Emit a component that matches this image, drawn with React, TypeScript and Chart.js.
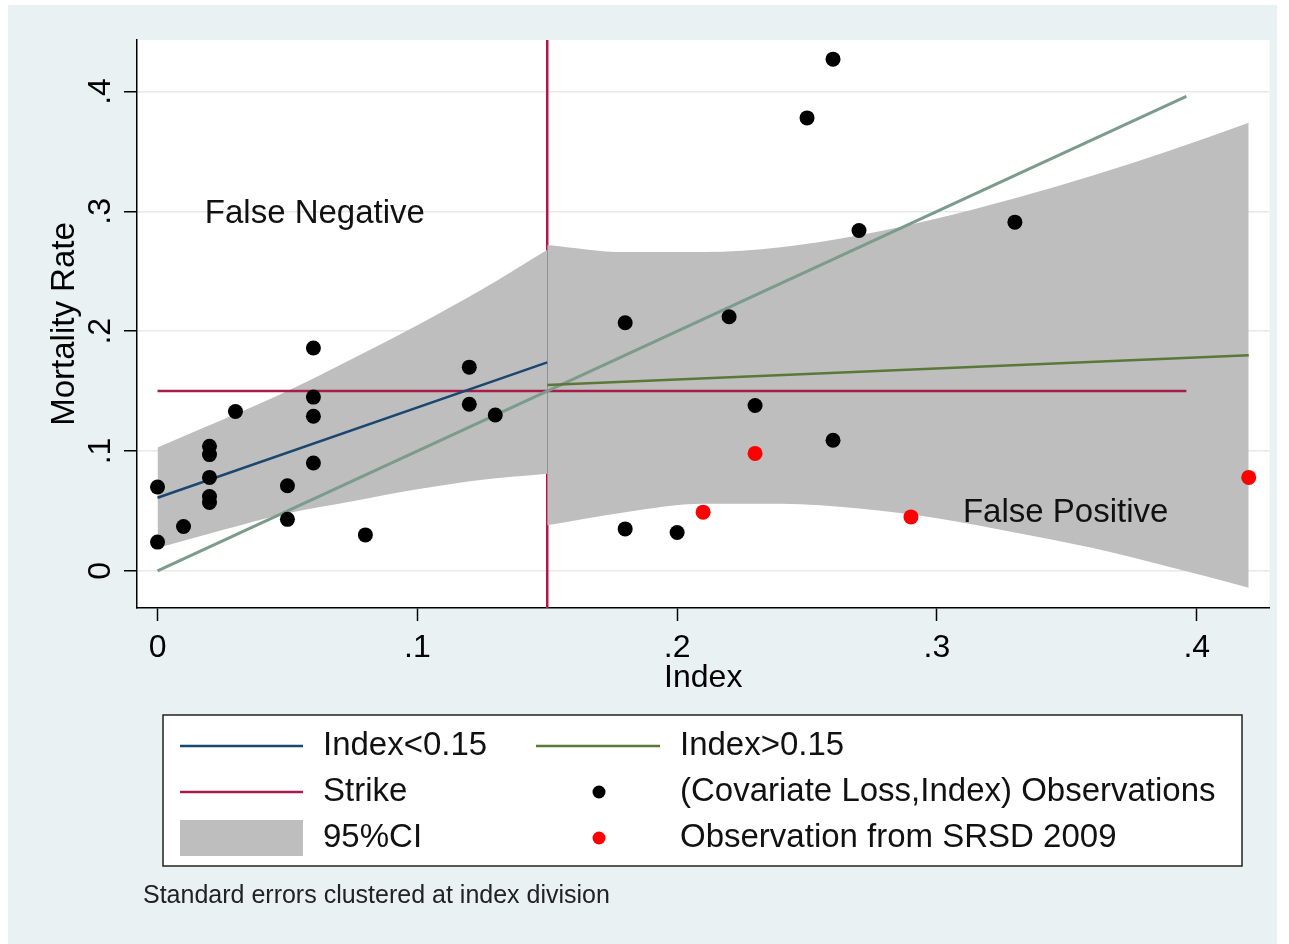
import React, { useEffect, useRef } from 'react';
import { Chart, registerables } from 'chart.js';

Chart.register(...registerables);

const FONT = '"Liberation Sans", Arial, Helvetica, sans-serif';

// Axes
const X_TICKS = [0, 0.1, 0.2, 0.3, 0.4];
const Y_TICKS = [0, 0.1, 0.2, 0.3, 0.4];
const X_MIN = -0.0079;
const X_MAX = 0.428;
const Y_MIN = -0.031;
const Y_MAX = 0.443;

// (Covariate Loss, Index) observations
const OBS_X = [0, 0, 0.01, 0.02, 0.02, 0.02, 0.02, 0.02, 0.03, 0.05, 0.05, 0.06, 0.06, 0.06, 0.06, 0.08, 0.12, 0.12, 0.13,
  0.18, 0.18, 0.2, 0.22, 0.23, 0.25, 0.26, 0.26, 0.27, 0.33];
const OBS_Y = [0.07, 0.024, 0.037, 0.104, 0.097, 0.078, 0.062, 0.057, 0.133, 0.071, 0.043, 0.186, 0.145, 0.129, 0.09, 0.03, 0.17, 0.139, 0.13,
  0.207, 0.035, 0.032, 0.212, 0.138, 0.378, 0.427, 0.109, 0.284, 0.291];

// Observations from SRSD 2009
const SRSD_X = [0.21, 0.23, 0.29, 0.42];
const SRSD_Y = [0.049, 0.098, 0.045, 0.078];

// Fitted lines
const LOW_FIT_X = [0, 0.15];
const LOW_FIT_Y = [0.061, 0.174];
const HIGH_FIT_X = [0.15, 0.42];
const HIGH_FIT_Y = [0.155, 0.18];
const DIAG_X = [0, 0.396];
const DIAG_Y = [0, 0.396];

// Strike
const STRIKE = 0.15;
const STRIKE_X = [0, 0.396];

// 95% CI bands
const CI_LOW_X = [0, 0.025, 0.05, 0.075, 0.1, 0.125, 0.15];
const CI_LOW_UPPER = [0.103, 0.126, 0.15, 0.177, 0.205, 0.235, 0.268];
const CI_LOW_LOWER = [0.019, 0.034, 0.048, 0.058, 0.068, 0.076, 0.081];
const CI_HIGH_X = [0.15, 0.18, 0.21, 0.24, 0.27, 0.3, 0.33, 0.36, 0.39, 0.42];
const CI_HIGH_UPPER = [0.272, 0.266, 0.266, 0.27, 0.28, 0.294, 0.311, 0.33, 0.351, 0.374];
const CI_HIGH_LOWER = [0.038, 0.049, 0.056, 0.056, 0.052, 0.044, 0.032, 0.019, 0.003, -0.014];

// Text labels
const LABEL_LOW = 'Index<0.15';
const LABEL_HIGH = 'Index>0.15';
const LABEL_STRIKE = 'Strike';
const LABEL_OBS = '(Covariate Loss,Index) Observations';
const LABEL_CI = '95%CI';
const LABEL_SRSD = 'Observation from SRSD 2009';
const NOTE = 'Standard errors clustered at index division';
const ANNOTATIONS = [
  { text: 'False Negative', x: 0.0182, y: 0.298 },
  { text: 'False Positive', x: 0.31, y: 0.0484 },
];

// Colors
const C_BG = '#e9f1f3';
const C_BLUE = '#1a476f';
const C_OLIVE = '#5a7838';
const C_DIAG = '#7b9c8c';
const C_STRIKE = '#a81c48';
const C_BAND = '#bebebe';
const C_OBS = '#000000';
const C_SRSD = '#ff0000';

const pts = (xs: number[], ys: number[]) => xs.map((x, i) => ({ x, y: ys[i] }));
const fmt = (v: number) => {
  if (Math.abs(v) < 1e-9) return '0';
  return v.toFixed(1).replace(/^0/, '').replace(/^-0/, '-');
};

const lineDs = (label: string, data: any[], color: string, width: number, extra: any = {}) => ({
  label,
  data,
  borderColor: color,
  backgroundColor: color,
  borderWidth: width,
  pointRadius: 0,
  pointHoverRadius: 0,
  showLine: true,
  tension: 0,
  fill: false,
  ...extra,
});

const bandDs = (label: string, data: any[], extra: any = {}) =>
  lineDs(label, data, 'rgba(0,0,0,0)', 0, { cubicInterpolationMode: 'monotone', ...extra });

const LEGEND = [
  { label: LABEL_LOW, kind: 'line', color: C_BLUE, col: 0, row: 0 },
  { label: LABEL_HIGH, kind: 'line', color: C_OLIVE, col: 1, row: 0 },
  { label: LABEL_STRIKE, kind: 'line', color: C_STRIKE, col: 0, row: 1 },
  { label: LABEL_OBS, kind: 'dot', color: C_OBS, col: 1, row: 1 },
  { label: LABEL_CI, kind: 'rect', color: C_BAND, col: 0, row: 2 },
  { label: LABEL_SRSD, kind: 'dot', color: C_SRSD, col: 1, row: 2 },
];

const decorPlugin = {
  id: 'decor',
  beforeDraw(chart: any) {
    const { ctx, chartArea } = chart;
    ctx.save();
    ctx.fillStyle = C_BG;
    ctx.fillRect(0, 0, chart.width, chart.height);
    ctx.fillStyle = '#ffffff';
    ctx.fillRect(chartArea.left, chartArea.top, chartArea.right - chartArea.left, chartArea.bottom - chartArea.top);
    ctx.restore();
  },
  afterDraw(chart: any) {
    const { ctx } = chart;
    const xs = chart.scales.x;
    const ys = chart.scales.y;
    ctx.save();
    ctx.fillStyle = '#000';
    // y tick labels, rotated
    ctx.font = `32px ${FONT}`;
    ys.ticks.forEach((t: any) => {
      const py = ys.getPixelForValue(t.value);
      ctx.save();
      ctx.translate(102, py);
      ctx.rotate(-Math.PI / 2);
      ctx.textAlign = 'center';
      ctx.textBaseline = 'alphabetic';
      ctx.fillText(fmt(t.value), 0, 0);
      ctx.restore();
    });
    // annotations
    ctx.font = `33px ${FONT}`;
    ctx.textAlign = 'left';
    ctx.textBaseline = 'middle';
    ctx.fillStyle = '#111';
    ANNOTATIONS.forEach((a) => {
      ctx.fillText(a.text, xs.getPixelForValue(a.x), ys.getPixelForValue(a.y));
    });
    // legend box
    const bx = 155, by = 710, bw = 1079, bh = 151;
    ctx.fillStyle = '#ffffff';
    ctx.fillRect(bx, by, bw, bh);
    ctx.strokeStyle = '#222';
    ctx.lineWidth = 1.5;
    ctx.strokeRect(bx, by, bw, bh);
    const rowY = [741, 787, 833];
    const colSym = [[172, 295], [528, 652]];
    const colText = [315, 672];
    ctx.font = `33px ${FONT}`;
    LEGEND.forEach((it) => {
      const y = rowY[it.row];
      const [s0, s1] = colSym[it.col];
      if (it.kind === 'line') {
        ctx.strokeStyle = it.color;
        ctx.lineWidth = 2.5;
        ctx.beginPath();
        ctx.moveTo(s0, y);
        ctx.lineTo(s1, y);
        ctx.stroke();
      } else if (it.kind === 'rect') {
        ctx.fillStyle = it.color;
        ctx.fillRect(s0, y - 18, s1 - s0, 36);
      } else {
        ctx.fillStyle = it.color;
        ctx.beginPath();
        ctx.arc((s0 + s1) / 2 + 1, y, 6.5, 0, Math.PI * 2);
        ctx.fill();
      }
      ctx.fillStyle = '#111';
      ctx.textAlign = 'left';
      ctx.textBaseline = 'middle';
      ctx.fillText(it.label, colText[it.col], y);
    });
    // note
    ctx.font = `25px ${FONT}`;
    ctx.fillStyle = '#222';
    ctx.fillText(NOTE, 135, 891);
    ctx.restore();
  },
};

export default function App() {
  const ref = useRef<HTMLCanvasElement>(null);
  useEffect(() => {
    if (!ref.current) return;
    const datasets: any[] = [
      {
        label: LABEL_OBS,
        data: pts(OBS_X, OBS_Y),
        showLine: false,
        pointRadius: 7.5,
        pointHoverRadius: 7.5,
        pointBackgroundColor: C_OBS,
        pointBorderColor: C_OBS,
        pointBorderWidth: 0,
        borderColor: C_OBS,
        backgroundColor: C_OBS,
      },
      {
        label: LABEL_SRSD,
        data: pts(SRSD_X, SRSD_Y),
        showLine: false,
        pointRadius: 7.5,
        pointHoverRadius: 7.5,
        pointBackgroundColor: C_SRSD,
        pointBorderColor: C_SRSD,
        pointBorderWidth: 0,
        borderColor: C_SRSD,
        backgroundColor: C_SRSD,
      },
      lineDs(LABEL_LOW, pts(LOW_FIT_X, LOW_FIT_Y), C_BLUE, 2.5),
      lineDs(LABEL_HIGH, pts(HIGH_FIT_X, HIGH_FIT_Y), C_OLIVE, 2.5),
      lineDs('45° line', pts(DIAG_X, DIAG_Y), C_DIAG, 3),
      lineDs(LABEL_STRIKE, pts(STRIKE_X, STRIKE_X.map(() => STRIKE)), C_STRIKE, 2.5),
      bandDs(LABEL_CI + ' upper (Index<0.15)', pts(CI_LOW_X, CI_LOW_UPPER), { fill: '+1', backgroundColor: C_BAND }),
      bandDs(LABEL_CI + ' lower (Index<0.15)', pts(CI_LOW_X, CI_LOW_LOWER)),
      bandDs(LABEL_CI + ' upper (Index>0.15)', pts(CI_HIGH_X, CI_HIGH_UPPER), { fill: '+1', backgroundColor: C_BAND }),
      bandDs(LABEL_CI + ' lower (Index>0.15)', pts(CI_HIGH_X, CI_HIGH_LOWER)),
      lineDs(LABEL_STRIKE + ' (Index)', pts([STRIKE, STRIKE], [Y_MIN, Y_MAX]), C_STRIKE, 2.5),
    ];
    const chart = new Chart(ref.current, {
      type: 'line',
      data: { datasets },
      options: {
        animation: false,
        responsive: false,
        events: [],
        layout: { padding: { left: 0, right: 5, top: 35, bottom: 246 } },
        plugins: { legend: { display: false }, tooltip: { enabled: false } },
        scales: {
          x: {
            type: 'linear',
            min: X_MIN,
            max: X_MAX,
            afterBuildTicks: (s: any) => { s.ticks = X_TICKS.map((v) => ({ value: v })); },
            afterFit: (s: any) => { s.height = 90; },
            ticks: {
              callback: (v: any) => fmt(Number(v)),
              font: { family: FONT, size: 32 },
              color: '#000',
              padding: 8,
              maxRotation: 0,
              minRotation: 0,
              autoSkip: false,
            },
            grid: { drawOnChartArea: false, drawTicks: true, tickLength: 13, tickColor: '#000', tickWidth: 1.5 },
            border: { display: true, color: '#000', width: 1.5 },
            title: { display: true, text: 'Index', font: { family: FONT, size: 32 }, color: '#000', padding: { top: 0, bottom: 1 } },
          },
          y: {
            type: 'linear',
            min: Y_MIN,
            max: Y_MAX,
            afterBuildTicks: (s: any) => { s.ticks = Y_TICKS.map((v) => ({ value: v })); },
            afterFit: (s: any) => { s.width = 129; },
            ticks: { display: false, callback: (v: any) => fmt(Number(v)) },
            grid: { drawOnChartArea: true, color: '#e8e8e8', lineWidth: 1.5, drawTicks: true, tickLength: 13, tickColor: '#000', tickWidth: 1.5 },
            border: { display: true, color: '#000', width: 1.5 },
            title: { display: true, text: 'Mortality Rate', font: { family: FONT, size: 33 }, color: '#000', padding: { top: 37, bottom: 0 } },
          },
        },
      },
      plugins: [decorPlugin],
    } as any);
    return () => chart.destroy();
  }, []);
  return (
    <div style={{ position: 'absolute', left: 8, top: 5 }}>
      <canvas ref={ref} width={1269} height={939} style={{ display: 'block' }} />
    </div>
  );
}
